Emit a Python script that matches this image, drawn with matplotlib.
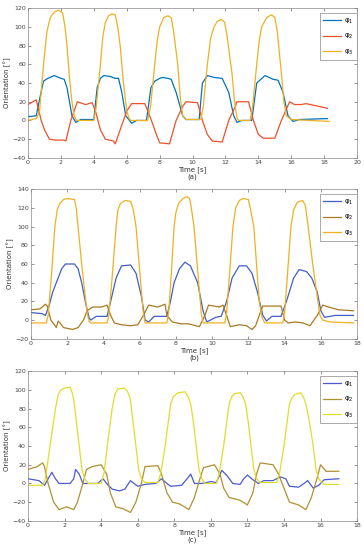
import matplotlib
matplotlib.use('Agg')
import matplotlib.pyplot as plt

# ── DATA ───────────────────────────────────────────────────────
# panel (a)
a_t1 = [0, 0.5, 0.73, 0.94, 1.2, 1.6, 2.0, 2.2, 2.37, 2.67, 2.9, 3.2, 4.0, 4.2, 4.4, 4.6, 5.0, 5.3, 5.5, 5.7, 5.94, 6.3, 6.6, 7.2, 7.47, 7.7, 8.0, 8.2, 8.5, 8.7, 9.0, 9.4, 9.6, 10.4, 10.6, 10.9, 11.3, 11.8, 12.2, 12.5, 12.7, 13.0, 13.6, 13.9, 14.4, 14.9, 15.2, 15.5, 15.8, 16.1, 16.5, 18.2]
a_p1 = [4, 5, 25, 42, 45, 48, 45, 44, 35, 5, -2, 1, 1, 35, 45, 48, 47, 45, 45, 30, 5, -3, 0, 0, 35, 42, 45, 46, 45, 44, 30, 5, 1, 1, 40, 48, 46, 45, 30, 5, -2, 0, 0, 40, 48, 44, 43, 30, 5, -1, 1, 2]
a_t2 = [0, 0.5, 0.8, 1.0, 1.3, 1.6, 2.2, 2.3, 2.6, 2.9, 3.0, 3.5, 3.9, 4.1, 4.4, 4.7, 5.2, 5.3, 5.6, 6.0, 6.3, 7.1, 7.5, 7.8, 8.0, 8.6, 9.0, 9.4, 9.6, 10.3, 10.6, 10.9, 11.2, 11.8, 12.2, 12.6, 12.7, 13.4, 13.7, 14.0, 14.3, 15.0, 15.4, 15.7, 15.9, 16.2, 16.6, 16.9, 18.2]
a_p2 = [17, 22, 0, -10, -20, -21, -21, -22, 0, 15, 20, 17, 19, 10, -10, -20, -22, -25, -10, 10, 18, 18, 0, -15, -24, -25, 0, 15, 20, 19, 0, -15, -22, -23, 0, 15, 20, 20, 0, -15, -19, -19, 0, 12, 20, 17, 17, 18, 13]
a_t3 = [0, 0.5, 0.7, 0.94, 1.15, 1.35, 1.6, 1.86, 2.1, 2.25, 2.37, 2.52, 2.67, 2.8, 2.95,
        4.0, 4.15, 4.4, 4.55, 4.7, 4.9, 5.1, 5.3, 5.45, 5.6, 5.8, 6.0, 6.15, 6.25,
        7.26, 7.45, 7.7, 7.85, 8.0, 8.25, 8.5, 8.7, 8.85, 9.1, 9.25, 9.4, 9.6,
        10.5, 10.65, 10.9, 11.1, 11.3, 11.5, 11.75, 11.95, 12.1, 12.4, 12.55, 12.7, 12.8,
        13.5, 13.65, 13.9, 14.05, 14.2, 14.5, 14.8, 15.0, 15.15, 15.4, 15.55, 15.7, 16.0, 18.3]
a_p3 = [0, 2, 10, 60, 95, 110, 116, 118, 115, 100, 80, 45, 20, 5, 0,
        0, 15, 60, 90, 105, 112, 114, 113, 100, 80, 40, 10, 2, 0,
        0, 15, 60, 85, 100, 110, 112, 110, 95, 60, 25, 5, 1,
        1, 15, 60, 88, 100, 106, 108, 105, 90, 50, 20, 3, 0,
        0, 15, 60, 85, 100, 110, 113, 110, 95, 50, 20, 5, 1, -1]

# panel (b)
b_t1 = [0, 0.6, 0.8, 1.0, 1.2, 1.5, 1.7, 1.9, 2.4, 2.6, 2.8, 3.0, 3.2, 3.3, 3.6, 4.2, 4.4, 4.7, 5.0, 5.5, 5.8, 6.1, 6.3, 6.5, 6.8, 7.5, 7.7, 7.9, 8.2, 8.5, 8.8, 9.2, 9.5, 9.7, 10.2, 10.5, 10.8, 11.1, 11.5, 11.9, 12.2, 12.5, 12.8, 13.0, 13.3, 13.8, 14.1, 14.5, 14.8, 15.2, 15.5, 15.8, 16.0, 16.2, 16.8, 17.8]
b_p1 = [8, 7, 5, 15, 30, 45, 55, 60, 60, 55, 40, 20, 3, 0, 4, 4, 20, 45, 58, 59, 50, 25, 0, -2, 4, 4, 20, 40, 55, 62, 58, 40, 10, -2, 3, 4, 20, 45, 58, 58, 50, 30, 5, -1, 4, 4, 20, 45, 54, 52, 45, 30, 10, 3, 5, 5]
b_t2 = [0, 0.5, 0.8, 0.9, 1.1, 1.3, 1.4, 1.5, 1.6, 1.8, 2.3, 2.6, 2.9, 3.1, 3.4, 3.9, 4.2, 4.4, 4.6, 5.0, 5.5, 5.9, 6.2, 6.5, 7.0, 7.4, 7.5, 7.8, 8.3, 8.7, 9.3, 9.6, 9.8, 10.4, 10.6, 10.8, 11.0, 11.5, 11.9, 12.2, 12.4, 12.6, 12.8, 13.6, 13.8, 14.0, 14.2, 14.6, 15.0, 15.4, 15.8, 16.1, 16.6, 17.0, 17.8]
b_p2 = [11, 12, 17, 15, 0, -5, -8, -1, -3, -8, -10, -8, 0, 10, 14, 14, 16, 5, -3, -5, -6, -5, 5, 16, 14, 17, 5, -2, -4, -4, -7, 5, 16, 14, 16, 5, -7, -5, -6, -10, -6, 5, 15, 15, 15, 0, -3, -2, -3, -6, 5, 16, 13, 11, 10]
b_t3 = [0, 0.85, 0.95, 1.14, 1.32, 1.45, 1.6, 1.8, 2.0, 2.4, 2.5, 2.6, 2.8, 2.97, 3.1, 3.2, 3.3,
        4.2, 4.3, 4.5, 4.7, 4.8, 4.95, 5.2, 5.5, 5.65, 5.8, 5.95, 6.1, 6.2, 6.3,
        7.5, 7.6, 7.75, 7.9, 8.0, 8.15, 8.4, 8.6, 8.75, 8.85, 9.0, 9.15, 9.3, 9.4, 9.5,
        10.7, 10.8, 11.0, 11.15, 11.3, 11.5, 11.7, 12.0, 12.1, 12.3, 12.45, 12.6, 12.75, 12.9,
        13.9, 14.0, 14.2, 14.35, 14.5, 14.7, 15.0, 15.15, 15.3, 15.55, 15.8, 15.95, 16.1, 16.5, 17.8]
b_p3 = [-3, -3, 5, 50, 100, 118, 125, 129, 130, 129, 120, 100, 60, 30, 8, -1, -3,
        -3, 5, 50, 100, 118, 125, 128, 127, 118, 100, 65, 30, 8, -3,
        -3, 8, 50, 100, 115, 125, 130, 132, 130, 120, 100, 65, 30, 8, -3,
        -3, 8, 60, 100, 120, 128, 130, 129, 120, 100, 60, 20, 3, -3,
        -3, 8, 60, 100, 118, 126, 128, 122, 100, 60, 25, 5, 0, -2, -3]

# panel (c)
c_t1 = [0, 0.6, 0.9, 1.1, 1.3, 1.5, 1.7, 2.3, 2.5, 2.6, 2.8, 3.0, 3.8, 4.1, 4.3, 4.6, 5.0, 5.3, 5.6, 5.8, 6.0, 6.4, 7.0, 7.3, 7.6, 7.8, 8.4, 8.7, 8.9, 9.1, 9.5, 10.0, 10.3, 10.6, 10.9, 11.2, 11.6, 11.8, 12.0, 12.3, 12.6, 12.9, 13.4, 13.8, 14.1, 14.3, 14.8, 15.1, 15.3, 15.6, 15.9, 16.2, 17.0]
c_p1 = [5, 3, -2, 5, 12, 5, 0, 0, 5, 15, 10, 0, 0, 5, 0, -6, -8, -6, 3, 0, -3, -1, 0, 5, 0, -3, -2, 5, 10, 0, 0, 2, 1, 14, 8, 0, -1, 5, 9, 4, 0, 3, 3, 7, 5, -3, -4, 0, 3, -5, -2, 4, 5]
c_t2 = [0, 0.5, 0.8, 0.9, 1.1, 1.4, 1.7, 2.1, 2.5, 2.7, 3.0, 3.2, 3.5, 4.0, 4.3, 4.5, 4.8, 5.2, 5.6, 5.9, 6.2, 6.4, 7.1, 7.3, 7.6, 7.9, 8.3, 8.8, 9.1, 9.4, 9.6, 10.2, 10.5, 10.7, 11.0, 11.6, 12.0, 12.3, 12.5, 12.7, 13.4, 13.7, 14.0, 14.3, 14.8, 15.2, 15.5, 15.8, 16.0, 16.3, 17.0]
c_p2 = [15, 18, 22, 18, 0, -20, -28, -25, -28, -20, 0, 15, 18, 20, 10, -10, -25, -27, -31, -20, 0, 18, 19, 10, -10, -20, -22, -28, -15, 5, 17, 20, 10, -5, -15, -18, -23, -10, 10, 22, 20, 10, -5, -20, -23, -28, -15, 5, 20, 13, 13]
c_t3 = [0, 0.8, 0.95, 1.2, 1.5, 1.65, 1.8, 2.0, 2.3, 2.4, 2.5, 2.65, 2.8, 2.95, 3.1, 3.3,
        4.0, 4.15, 4.4, 4.6, 4.75, 4.9, 5.3, 5.45, 5.6, 5.75, 5.9, 6.05, 6.2, 6.4,
        7.1, 7.25, 7.5, 7.8, 7.95, 8.2, 8.6, 8.75, 8.9, 9.05, 9.2, 9.35, 9.5, 9.7,
        10.3, 10.45, 10.7, 11.0, 11.15, 11.3, 11.6, 11.75, 11.9, 12.05, 12.2, 12.35, 12.5, 12.7,
        13.6, 13.75, 14.0, 14.3, 14.45, 14.6, 14.9, 15.05, 15.2, 15.4, 15.6, 15.75, 15.9, 16.2, 17.0]
c_p3 = [-2, -2, 5, 40, 80, 95, 100, 102, 103, 98, 90, 65, 40, 15, 5, 0,
        0, 10, 50, 80, 95, 101, 102, 98, 90, 65, 40, 15, 5, 1,
        1, 10, 40, 85, 93, 97, 98, 93, 85, 65, 40, 15, 5, 0,
        0, 10, 40, 85, 93, 96, 97, 93, 85, 65, 40, 15, 5, 1,
        1, 10, 40, 85, 92, 95, 97, 93, 85, 65, 40, 15, 5, -1, -1]

labels = ['φ$_1$', 'φ$_2$', 'φ$_3$']
captions = ['(a)', '(b)', '(c)']
xlims = [(0, 20), (0, 18), (0, 18)]
ylims = [(-40, 120), (-20, 140), (-40, 120)]

panels = [
    ((a_t1, a_p1), (a_t2, a_p2), (a_t3, a_p3)),
    ((b_t1, b_p1), (b_t2, b_p2), (b_t3, b_p3)),
    ((c_t1, c_p1), (c_t2, c_p2), (c_t3, c_p3)),
]
colours = [
    ['#0072BD', '#F0502A', '#F0B020'],
    ['#3F5FC8', '#A87A22', '#F0B020'],
    ['#4A5AD2', '#B09030', '#E2DC2A'],
]
# axes boxes [left, bottom, width, height] in figure fractions
boxes = [
    [0.077, 0.713, 0.904, 0.272],
    [0.085, 0.384, 0.896, 0.272],
    [0.077, 0.053, 0.904, 0.272],
]

plt.rcParams['font.family'] = 'DejaVu Sans'
fig = plt.figure(figsize=(3.64, 5.5), dpi=100)

for i, series in enumerate(panels):
    ax = fig.add_axes(boxes[i])
    for (t, p), c, lab in zip(series, colours[i], labels):
        ax.plot(t, p, color=c, lw=0.9, label=lab)
    ax.set_xlim(*xlims[i])
    ax.set_ylim(*ylims[i])
    ax.set_xticks(range(xlims[i][0], xlims[i][1] + 1, 2))
    ax.set_yticks(range(ylims[i][0], ylims[i][1] + 1, 20))
    ax.tick_params(direction='in', length=2, width=0.4, labelsize=4.5,
                   colors='#444444', top=True, right=True, pad=1.5)
    for s in ax.spines.values():
        s.set_linewidth(0.5)
        s.set_color('#888888')
    ax.set_xlabel('Time [s]\n' + captions[i], fontsize=5, labelpad=1,
                  linespacing=1.0, color='#333333')
    ax.set_ylabel('Orientation [°]', fontsize=5, labelpad=1, color='#333333')
    leg = ax.legend(loc='upper right', bbox_to_anchor=(1.01, 0.99),
                    fontsize=5, handlelength=2.6, fancybox=False,
                    framealpha=1, borderpad=0.5, labelspacing=0.9,
                    handletextpad=0.4)
    leg.get_frame().set_edgecolor('#888888')
    leg.get_frame().set_linewidth(0.5)

fig.savefig('out.png', dpi=100)
